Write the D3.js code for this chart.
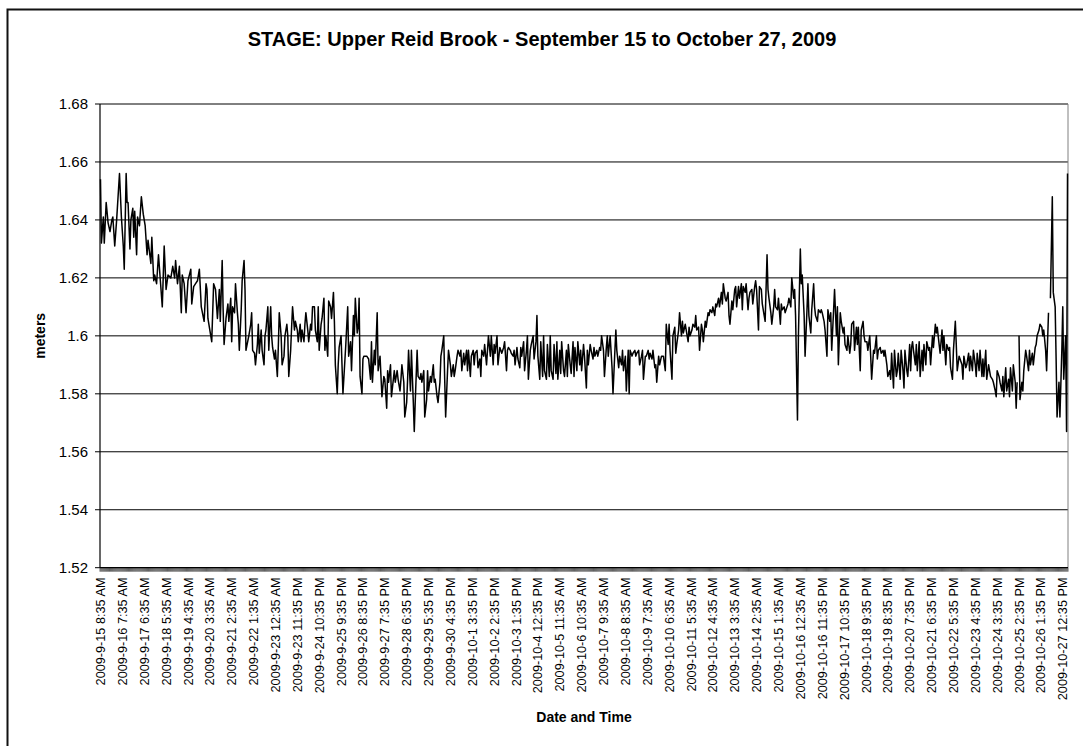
<!DOCTYPE html>
<html>
<head>
<meta charset="utf-8">
<script src="https://cdn.jsdelivr.net/npm/d3@7"></script>
<style>
  body { margin: 0; background: #fff; }
  text { font-family: "Liberation Sans", Arial, sans-serif; fill: #000; }
</style>
</head>
<body>
<script>
var w = 1083;
var h = 746;

// hourly readings, index = hours since 2009-9-15 8:35 AM (null = gap in record)
var hourIdx = [
  0,1,3,4,6,8,10,12,13,15, 17,20,22,24,25,27,28,29,31,32, 34,35,36,38,39,41,43,45,47,49,
  50,53,54,56,57,59,61,63,65,67, 69,71,74,76,78,79,81,83,85,86, 88,90,92,95,96,98,100,102,104,106,
  109,111,112,113,116,117,119,121,123,125,
  126,128,129,130,132,134,135,137,138,139, 141,142,144,145,146,148,149,151,152,153,
  156,158,159,160,162,163,165,166,167,169, 170,172,173,174,176,177,179,180,181,183,
  184,186,187,188,190,191,193,194,196,197, 198,200,201,202,204,205,207,208,210,211,
  212,214,215,216,218,219,221,222,223,225, 226,228,229,230,232,233,235,236,237,239,
  240,242,243,245,246,247,249,250,251,
  253,255,258,260,261,263,264,266,267,268, 270,271,272,273,275,276,277,280,282,284,
  285,286,288,289,291,292,294,295,296,298, 299,301,302,303,305,306,308,309,310,312,
  313,315,316,317,319,320,322,323,324,326, 327,329,330,331,333,334,336,337,338,340,
  341,343,344,345,347,348,350,351,352,354, 355,357,358,359,361,362,363,365,366,368,
  369,371,372,373,375,376,378,
  379,380,382,383,385,386,387,389,390,392, 393,394,396,397,399,400,401,403,404,406,
  407,408,410,411,413,414,415,417,418,420, 421,422,424,425,427,428,429,431,432,434,
  435,436,438,439,441,442,443,445,446,448, 449,450,452,453,455,456,458,459,460,462,
  463,465,466,467,469,470,472,473,474,476, 477,479,480,481,483,484,485,487,488,490,
  491,492,494,495,497,498,499,501,502,504, 505,506,508,509,511,512,513,515,516,518,
  519,520,522,523,525,526,527,529,530,532, 533,534,536,
  538,539,541,542,543,545,546,548,549,550, 552,553,555,556,557,559,560,562,563,564,
  566,567,569,570,571,573,574,576,577,578, 580,581,583,584,585,587,588,590,591,592,
  594,595,597,598,599,601,602,604,605,606, 608,609,611,612,613,615,616,618,619,620,
  622,623,625,626,627,629,630,632,633,634, 636,637,639,640,641,643,644,646,647,648,
  650,651,653,654,655,657,658,660,661,662, 664,665,667,668,669,671,672,674,675,676,
  678,679,681,682,683,685,686,688,689,690, 692,693,695,
  696,698,699,701,702,703,705,706,708,709, 710,712,713,715,716,717,719,720,722,723,
  724,726,727,729,730,731,733,734,736,737, 738,740,741,743,744,745,747,748,750,751,
  752,754,755,757,758,759,761,762,764,765, 767,768,769,771,772,774,775,776,778,779,
  781,782,783,785,786,788,789,790,792,793, 795,796,797,799,800,802,803,804,806,807,
  809,810,811,813,814,816,817,818,820,821, 823,824,825,827,828,830,831,832,834,835,
  837,838,839,841,842,844,845,846,848,849, 851,852,853,
  854,855,857,858,859,861,862,864,865,866, 868,869,871,872,873,875,876,878,879,880,
  882,883,885,886,887,889,890,892,893,894, 896,897,899,900,901,903,904,906,907,908,
  910,911,913,914,915,917,918,920,921,922, 924,925,927,928,929,931,932,934,935,936,
  938,939,941,942,943,945,946,948,949,950, 952,953,955,956,957,959,960,962,963,964,
  965,
  966,967,969,970,971,973,974,976,977,978, 980,981,983,984,985,987,988,990,991,992,
  994,995,997,
  998,
  999,1001,1002,1004,1005,1006,1008,1009,1011,1012, 1013,1015,1016,1017
];

var stage = [
  1.654,1.632,1.641,1.632,1.646,1.639,1.636,1.640,1.641,1.631, 1.640,1.656,1.641,1.631,1.623,1.656,1.646,1.646,1.630,1.640, 1.644,1.634,1.643,1.628,1.641,1.638,1.648,1.642,1.638,1.628,
  1.633,1.625,1.634,1.619,1.621,1.618,1.628,1.619,1.610,1.631, 1.616,1.621,1.620,1.624,1.620,1.626,1.618,1.624,1.608,1.621, 1.618,1.608,1.619,1.623,1.611,1.617,1.618,1.619,1.623,1.610,
  1.605,1.618,1.616,1.606,1.600,1.598,1.618,1.616,1.606,1.616,
  1.605,1.626,1.609,1.597,1.606,1.611,1.605,1.613,1.598,1.610, 1.608,1.618,1.608,1.604,1.595,1.609,1.619,1.626,1.616,1.595,
  1.600,1.604,1.608,1.595,1.594,1.590,1.597,1.604,1.594,1.602, 1.595,1.590,1.600,1.602,1.610,1.595,1.610,1.600,1.596,1.592,
  1.595,1.586,1.596,1.608,1.600,1.590,1.593,1.600,1.604,1.600, 1.586,1.595,1.603,1.610,1.602,1.605,1.602,1.598,1.604,1.598,
  1.602,1.598,1.604,1.608,1.602,1.598,1.604,1.602,1.610,1.610, 1.602,1.598,1.610,1.595,1.604,1.606,1.613,1.595,1.600,1.593,
  1.612,1.610,1.606,1.615,1.605,1.590,1.580,1.590,1.596,
  1.600,1.580,1.597,1.610,1.593,1.598,1.588,1.607,1.600,1.613, 1.601,1.603,1.613,1.586,1.580,1.592,1.593,1.593,1.592,1.585,
  1.598,1.584,1.595,1.590,1.608,1.588,1.593,1.586,1.579,1.586, 1.585,1.575,1.588,1.584,1.590,1.579,1.585,1.588,1.584,1.588,
  1.585,1.581,1.585,1.590,1.584,1.572,1.577,1.585,1.595,1.581, 1.595,1.577,1.567,1.577,1.595,1.586,1.585,1.587,1.584,1.588,
  1.572,1.578,1.588,1.581,1.586,1.584,1.590,1.584,1.585,1.579, 1.577,1.584,1.593,1.595,1.600,1.585,1.572,1.588,1.595,1.590,
  1.586,1.590,1.586,1.588,1.593,1.595,1.593,
  1.595,1.588,1.594,1.590,1.595,1.588,1.595,1.586,1.593,1.595, 1.590,1.594,1.595,1.589,1.592,1.586,1.595,1.593,1.597,1.590,
  1.595,1.600,1.593,1.600,1.590,1.597,1.594,1.600,1.590,1.596, 1.595,1.594,1.596,1.598,1.588,1.595,1.596,1.595,1.594,1.593,
  1.595,1.590,1.596,1.592,1.589,1.596,1.593,1.598,1.588,1.595, 1.600,1.585,1.595,1.597,1.600,1.592,1.598,1.607,1.593,1.585,
  1.598,1.586,1.600,1.588,1.585,1.597,1.586,1.600,1.588,1.585, 1.597,1.587,1.598,1.585,1.595,1.587,1.598,1.588,1.586,1.595,
  1.586,1.597,1.590,1.587,1.598,1.586,1.596,1.588,1.598,1.590, 1.595,1.588,1.597,1.593,1.582,1.595,1.590,1.597,1.595,1.592,
  1.596,1.593,1.595,1.593,1.596,1.595,1.600,1.595,1.586,1.596, 1.600,1.593,1.600,
  1.589,1.580,1.595,1.602,1.595,1.589,1.593,1.590,1.595,1.588, 1.593,1.581,1.595,1.580,1.595,1.593,1.594,1.595,1.593,1.594,
  1.595,1.590,1.593,1.595,1.585,1.593,1.593,1.595,1.592,1.594, 1.592,1.595,1.589,1.590,1.584,1.593,1.590,1.593,1.593,1.593,
  1.588,1.604,1.597,1.604,1.595,1.585,1.600,1.603,1.594,1.597, 1.602,1.608,1.600,1.605,1.601,1.604,1.602,1.598,1.603,1.600,
  1.602,1.604,1.603,1.607,1.602,1.603,1.595,1.604,1.602,1.598, 1.605,1.603,1.608,1.607,1.609,1.608,1.610,1.607,1.611,1.610,
  1.613,1.610,1.615,1.611,1.618,1.613,1.612,1.615,1.607,1.604, 1.612,1.609,1.616,1.617,1.610,1.617,1.613,1.618,1.609,1.617,
  1.615,1.618,1.609,1.613,1.615,1.616,1.611,1.617,1.619,1.616, 1.602,1.617,1.616,
  1.611,1.607,1.605,1.628,1.616,1.613,1.608,1.604,1.610,1.616, 1.610,1.609,1.613,1.604,1.611,1.609,1.610,1.608,1.610,1.611,
  1.613,1.610,1.620,1.613,1.616,1.607,1.571,1.600,1.630,1.618, 1.621,1.607,1.593,1.609,1.618,1.607,1.601,1.609,1.618,1.610,
  1.607,1.605,1.609,1.608,1.609,1.608,1.605,1.602,1.593,1.609, 1.605,1.608,1.595,1.609,1.616,1.600,1.610,1.590,1.608,1.605,
  1.601,1.603,1.597,1.595,1.600,1.594,1.597,1.604,1.605,1.595, 1.603,1.597,1.603,1.588,1.602,1.605,1.600,1.598,1.598,1.595,
  1.600,1.593,1.585,1.595,1.594,1.600,1.592,1.595,1.596,1.594, 1.595,1.593,1.595,1.590,1.586,1.588,1.585,1.594,1.582,1.595,
  1.586,1.588,1.594,1.585,1.595,1.588,1.582,1.595,1.588,1.586, 1.597,1.588,1.596,
  1.598,1.595,1.590,1.597,1.588,1.598,1.586,1.595,1.588,1.597, 1.590,1.598,1.595,1.596,1.590,1.600,1.596,1.604,1.601,1.603,
  1.597,1.594,1.602,1.595,1.600,1.590,1.597,1.595,1.596,1.589, 1.585,1.595,1.605,1.597,1.588,1.593,1.592,1.590,1.585,1.593,
  1.589,1.590,1.594,1.588,1.593,1.588,1.595,1.590,1.586,1.594, 1.588,1.595,1.586,1.592,1.586,1.595,1.585,1.590,1.588,1.586,
  1.585,1.584,1.581,1.579,1.588,1.586,1.584,1.581,1.586,1.579, 1.589,1.581,1.585,1.579,1.589,1.581,1.590,1.584,1.575,1.584,
  null,
  1.600,1.578,1.584,1.581,1.588,1.595,1.593,1.588,1.595,1.590, 1.594,1.590,1.596,1.597,1.600,1.602,1.604,1.603,1.600,1.602,
  1.595,1.588,1.608,
  null,
  1.613,1.648,1.615,1.610,1.592,1.572,1.584,1.572,1.595,1.610, 1.585,1.600,1.567,1.656
];

var tickLabels = [
  "2009-9-15 8:35 AM", "2009-9-16 7:35 AM", "2009-9-17 6:35 AM", "2009-9-18 5:35 AM",
  "2009-9-19 4:35 AM", "2009-9-20 3:35 AM", "2009-9-21 2:35 AM", "2009-9-22 1:35 AM",
  "2009-9-23 12:35 AM", "2009-9-23 11:35 PM", "2009-9-24 10:35 PM", "2009-9-25 9:35 PM",
  "2009-9-26 8:35 PM", "2009-9-27 7:35 PM", "2009-9-28 6:35 PM", "2009-9-29 5:35 PM",
  "2009-9-30 4:35 PM", "2009-10-1 3:35 PM", "2009-10-2 2:35 PM", "2009-10-3 1:35 PM",
  "2009-10-4 12:35 PM", "2009-10-5 11:35 AM", "2009-10-6 10:35 AM", "2009-10-7 9:35 AM",
  "2009-10-8 8:35 AM", "2009-10-9 7:35 AM", "2009-10-10 6:35 AM", "2009-10-11 5:35 AM",
  "2009-10-12 4:35 AM", "2009-10-13 3:35 AM", "2009-10-14 2:35 AM", "2009-10-15 1:35 AM",
  "2009-10-16 12:35 AM", "2009-10-16 11:35 PM", "2009-10-17 10:35 PM", "2009-10-18 9:35 PM",
  "2009-10-19 8:35 PM", "2009-10-20 7:35 PM", "2009-10-21 6:35 PM", "2009-10-22 5:35 PM",
  "2009-10-23 4:35 PM", "2009-10-24 3:35 PM", "2009-10-25 2:35 PM", "2009-10-26 1:35 PM",
  "2009-10-27 12:35 PM"
];
var labelEvery = 23;   // one label every 23 readings
var nCategories = 1018;
var yTicks = [1.52, 1.54, 1.56, 1.58, 1.60, 1.62, 1.64, 1.66, 1.68];

var plot = { left: 100, right: 1068, top: 104, bottom: 567.7 };

var svg = d3.select('body')
           .append('svg')
           .attr('width', w)
           .attr('height', h);

// chart frame (right and bottom edges fall outside the picture)
svg.append('rect')
   .attr('x', 7.5).attr('y', 9.5)
   .attr('width', 1090).attr('height', 760)
   .attr('fill', 'white')
   .attr('stroke', '#111')
   .attr('stroke-width', 2);

var x = d3.scaleLinear().domain([0, nCategories]).range([plot.left, plot.right]);
var y = d3.scaleLinear().domain([1.52, 1.68]).range([plot.bottom, plot.top]);

// gridlines
svg.append('g')
   .selectAll('line')
   .data(yTicks.slice(1))
   .enter().append('line')
   .attr('x1', plot.left).attr('x2', plot.right)
   .attr('y1', function(d) { return y(d); })
   .attr('y2', function(d) { return y(d); })
   .attr('stroke', '#000')
   .attr('stroke-width', 1);

// plot area right edge
svg.append('line')
   .attr('x1', plot.right).attr('x2', plot.right)
   .attr('y1', plot.top).attr('y2', plot.bottom)
   .attr('stroke', '#808080');

// y axis
var yAxis = svg.append('g');
yAxis.append('line')
     .attr('x1', plot.left).attr('x2', plot.left)
     .attr('y1', plot.top).attr('y2', plot.bottom)
     .attr('stroke', '#000').attr('stroke-width', 1.2);
yAxis.selectAll('.ytick')
     .data(yTicks)
     .enter().append('line')
     .attr('x1', plot.left - 5).attr('x2', plot.left)
     .attr('y1', function(d) { return y(d); })
     .attr('y2', function(d) { return y(d); })
     .attr('stroke', '#000');
yAxis.selectAll('text')
     .data(yTicks)
     .enter().append('text')
     .attr('x', 88)
     .attr('y', function(d) { return y(d); })
     .attr('dy', '0.36em')
     .attr('text-anchor', 'end')
     .style('font-size', '15px')
     .text(function(d) { return d3.format('.2f')(d).replace(/0$/, '').replace(/\.$/, ''); });

// x axis: a tick between every reading
var tickPath = d3.path();
d3.range(nCategories + 1).forEach(function(i) {
  tickPath.moveTo(x(i), plot.bottom);
  tickPath.lineTo(x(i), plot.bottom + 4);
});
svg.append('path')
   .attr('d', tickPath.toString())
   .attr('stroke', '#000')
   .attr('stroke-width', 0.6)
   .attr('fill', 'none');
svg.append('line')
   .attr('x1', plot.left).attr('x2', plot.right)
   .attr('y1', plot.bottom).attr('y2', plot.bottom)
   .attr('stroke', '#000').attr('stroke-width', 1.2);

svg.append('g')
   .selectAll('text')
   .data(tickLabels)
   .enter().append('text')
   .attr('transform', function(d, i) {
     return 'translate(' + x(i * labelEvery + 0.5) + ',' + 577.5 + ') rotate(-90)';
   })
   .attr('dy', '0.36em')
   .attr('text-anchor', 'end')
   .style('font-size', '12.7px')
   .text(function(d) { return d; });

// the stage line
var data = hourIdx.map(function(hr, i) { return { h: hr, v: stage[i] }; });
var line = d3.line()
             .defined(function(d) { return d.v != null; })
             .x(function(d) { return x(d.h + 0.5); })
             .y(function(d) { return y(d.v); });
svg.append('path')
   .datum(data)
   .attr('d', line)
   .attr('fill', 'none')
   .attr('stroke', '#000')
   .attr('stroke-width', 1.5)
   .attr('stroke-linejoin', 'round');

// titles
svg.append('text')
   .attr('x', 542).attr('y', 45.5)
   .attr('text-anchor', 'middle')
   .style('font-size', '20px').style('font-weight', 'bold')
   .text('STAGE: Upper Reid Brook - September 15 to October 27, 2009');

svg.append('text')
   .attr('transform', 'translate(45,' + (plot.top + plot.bottom) / 2 + ') rotate(-90)')
   .attr('text-anchor', 'middle')
   .style('font-size', '14px').style('font-weight', 'bold')
   .text('meters');

svg.append('text')
   .attr('x', (plot.left + plot.right) / 2).attr('y', 722)
   .attr('text-anchor', 'middle')
   .style('font-size', '14px').style('font-weight', 'bold')
   .text('Date and Time');
</script>
</body>
</html>
